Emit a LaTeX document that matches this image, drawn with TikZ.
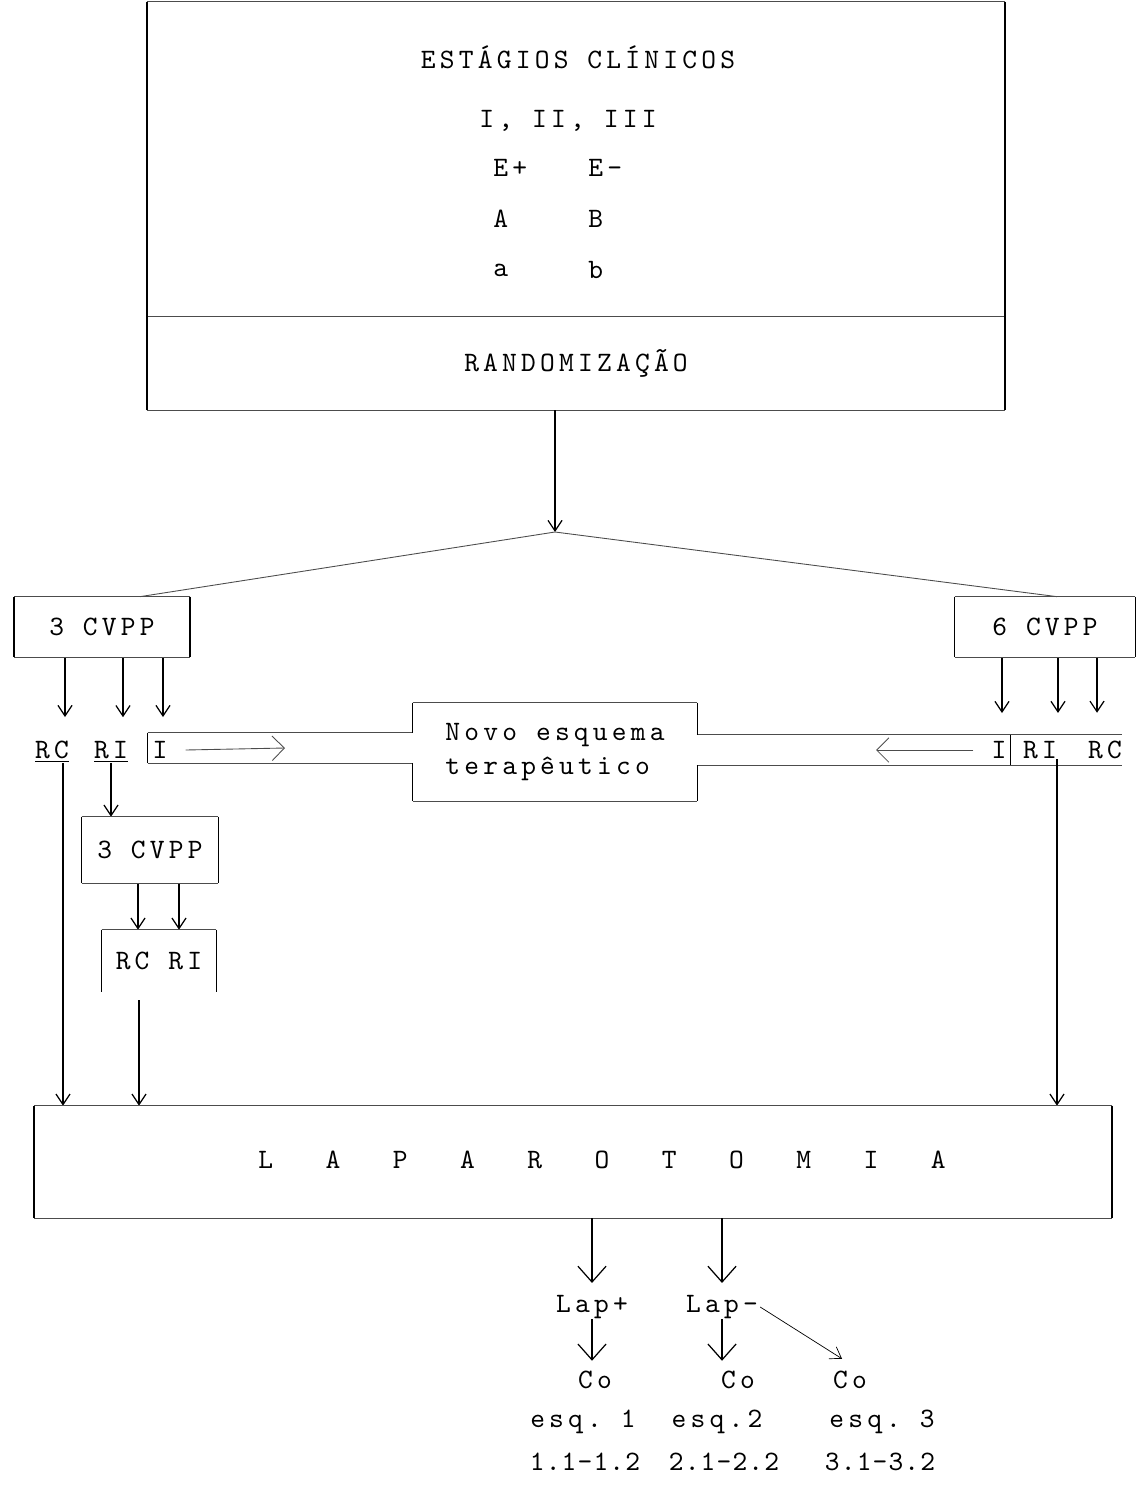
\documentclass[tikz,border=0pt]{standalone}
\usepackage{fontspec}
\setmonofont{lmmono10-regular.otf}[LetterSpace=15]
\usepackage{tikz}
\usetikzlibrary{arrows.meta, calc, positioning}
\newcommand\weitsatz{\spaceskip=1.05cm\relax}

\begin{document}
\begin{tikzpicture}[x=0.02cm, y=-0.02cm, inner sep=0pt,
					>={Straight Barb[length=6pt, width=8pt]},   %Voreinstellung für Pfeilspitzen
					font=\ttfamily\fontsize{16}{19.4}\selectfont,
					eng/.style={font=\ttfamily\fontsize{16}{19.4}\selectfont\addfontfeatures{LetterSpace=4}},
					quer/.style={black!70, line width=0.5pt},
					senk/.style={black, line width=0.9pt},
					pfeil/.style={->, line width=0.7pt},
					grosspfeil/.style={-{Straight Barb[length=9pt, width=16pt]}, line width=0.7pt},
					kanalpfeil/.style={-{Straight Barb[length=7pt, width=14pt]}, black!70, line width=0.5pt}]
					%Rahmen
					\useasboundingbox (0,0) rectangle (1138,1490);
					% Kaesten oben
					\node[minimum width=17.16cm, minimum height=6.28cm] (estagios) at (576,159) {};
					\node[minimum width=17.16cm, minimum height=1.88cm] (random) at (576,363) {RANDOMIZAÇÃO};
					\draw[quer] (estagios.north west) -- (estagios.north east);
					\draw[quer] (estagios.south west) -- (estagios.south east);
					\draw[quer] (random.south west) -- (random.south east);
					\draw[senk] (estagios.north west) -- (random.south west);
					\draw[senk] (estagios.north east) -- (random.south east);
					% Stadien
					\node (titel) at (578,57) {ESTÁGIOS CLÍNICOS};
					\node (stadien) at (568,121) {I, II, III};
					\node[anchor=west] (eplus) at (493,168) {E+};
					\node[anchor=west] (eminus) at (588,168) {E-};
					\node[anchor=west] (grA) at (493,219) {A};
					\node[anchor=west] (grB) at (588,219) {B};
					\node[anchor=west] (klA) at (493,270) {a};
					\node[anchor=west] (klB) at (588,270) {b};
					% Verzweigung
					\coordinate (spitze) at (555,532);
					\draw[pfeil] (random.south -| spitze) -- (spitze);
					\node[minimum width=3.5cm, minimum height=1.2cm] (cvppA) at (102,627) {3 CVPP};
					\node[minimum width=3.6cm, minimum height=1.2cm] (cvppB) at (1045,627) {6 CVPP};
					\draw[quer] ($(cvppA.north)+(38,0)$) -- (spitze) -- ($(cvppB.north)+(12,0)$);
					% Ergebnisse nach 3 bzw. 6 CVPP
					\node (rcA) at (52,752) {\underline{RC}};
					\node (riA) at (111,752) {\underline{RI}};
					\node (iA) at (160,750) {I};
					\node (iB) at (999,750) {I};
					\node (riB) at (1040,750) {RI};
					\node (rcB) at (1105,750) {RC};
					\foreach \z/\d in {rcA/13, riA/12, iA/3} \draw[pfeil] ($(\z.north |- cvppA.south)+(\d,0)$) -- ($(\z.north)+(\d,-24)$);
					\foreach \z/\d in {iB/3, riB/18, rcB/-8} \draw[pfeil] ($(\z.north |- cvppB.south)+(\d,0)$) -- ($(\z.north)+(\d,-28)$);
					% Novo esquema mit Kanaelen
					\node[minimum width=5.68cm, minimum height=1.96cm, align=left] (novo) at (555,752) {Novo esquema\\terapêutico};
					\node[minimum width=5.3cm, minimum height=0.6cm] (kanalL) at (280.5,748) {};
					\node[minimum width=6.26cm, minimum height=0.6cm] (kanalR) at (853.5,750) {};
					\draw[quer] (kanalL.north west) -- (kanalL.north east);
					\draw[quer] (kanalL.south west) -- (kanalL.south east);
					\draw[quer] (novo.north west) -- (novo.north east);
					\draw[quer] (novo.south west) -- (novo.south east);
					\draw[quer] (kanalR.north west) -- (kanalR.north east) -- (kanalR.north east -| rcB.east);
					\draw[quer] (kanalR.south west) -- (kanalR.south east) -- (kanalR.south east -| rcB.east);
					\draw[senk] (kanalL.north west) -- (kanalL.south west);
					\draw[senk] (novo.north west) -- (novo.west |- kanalL.north);
					\draw[senk] (novo.west |- kanalL.south) -- (novo.south west);
					\draw[senk] (novo.north east) -- (novo.east |- kanalR.north);
					\draw[senk] (novo.east |- kanalR.south) -- (novo.south east);
					\draw[senk] (kanalR.north east) -- (kanalR.south east);
					\coordinate (spitzeL) at (285,748);
					\coordinate (spitzeR) at (876,750);
					\draw[kanalpfeil] ($(iA.east)+(18,0)$) -- (spitzeL);
					\draw[kanalpfeil] ($(iB.west)+(-18,0)$) -- (spitzeR);
					% zweiter Zyklus
					\node[minimum width=2.72cm, minimum height=1.32cm] (cvppC) at (150,850) {3 CVPP};
					\node[minimum width=2.28cm, minimum height=1.24cm] (rcri) at (159,961) {RC RI};
					\draw[pfeil] (riA.south) -- (riA.south |- cvppC.north);
					\foreach \d in {-12, 29} \draw[pfeil] ($(cvppC.south)+(\d,0)$) -- ($(cvppC.south |- rcri.north)+(\d,0)$);
					\draw[quer] (rcri.north west) -- (rcri.north east);
					\draw[senk] (rcri.north west) -- (rcri.south west) (rcri.north east) -- (rcri.south east);
					% Laparotomie
					\node[minimum width=21.54cm, minimum height=2.24cm] (lap) at (573,1162) {};
					\node[anchor=west] (laptext) at (258,1160) {\weitsatz L A P A R O T O M I A};
					\draw[pfeil] ($(rcA.south)+(11,0)$) -- ($(rcA.south |- lap.north)+(11,0)$);
					\draw[pfeil] ($(rcri.south)+(-20,8)$) -- ($(rcri.south |- lap.north)+(-20,0)$);
					\draw[pfeil] ($(riB.south)+(17,0)$) -- ($(riB.south |- lap.north)+(17,0)$);
					\foreach \k in {cvppA, cvppB, cvppC, lap} {
						\draw[quer] (\k.north west) -- (\k.north east) (\k.south west) -- (\k.south east);
						\draw[senk] (\k.north west) -- (\k.south west) (\k.north east) -- (\k.south east);
					}
					% Befunde und Schemata
					\node (lapP) at (592,1307) {Lap+};
					\node (lapM) at (722,1307) {Lap-};
					\node (coA) at (595,1380) {Co};
					\node (coB) at (738,1380) {Co};
					\node (coC) at (850,1380) {Co};
					\foreach \z in {lapP, lapM} \draw[grosspfeil] (\z.north |- lap.south) -- ($(\z.north)+(0,-12)$);
					\draw[grosspfeil] (lapP.south) -- ($(lapP.south |- coA.north)+(0,-10)$);
					\draw[grosspfeil] (lapM.south) -- ($(lapM.south |- coB.north)+(0,-10)$);
					\draw[pfeil, line width=0.4pt] ($(lapM.east)+(2,0)$) -- ($(coC.north)+(-8,-12)$);
					\node (esqA) at (583,1422) {esq. 1};
					\node (esqB) at (717,1422) {esq.2};
					\node (esqC) at (882,1422) {esq. 3};
					\node[eng] (numA) at (585,1462) {1.1-1.2};
					\node[eng] (numB) at (724,1462) {2.1-2.2};
					\node[eng] (numC) at (880,1462) {3.1-3.2};
\end{tikzpicture}
\end{document}
